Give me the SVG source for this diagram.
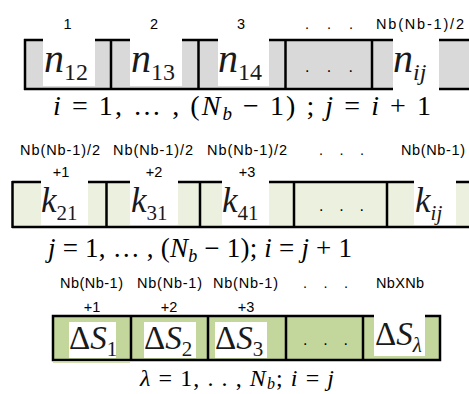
<svg xmlns="http://www.w3.org/2000/svg" width="469" height="394" viewBox="0 0 469 394">
<style>
.lbl{font-family:"Liberation Sans",Arial,sans-serif;font-size:14.5px;fill:#000}
.m{font-family:"Liberation Serif","Times New Roman",serif;fill:#000}
.it{font-style:italic}
.ln{stroke:#000;stroke-width:2.5;fill:none}
.wb{fill:#fff}
.g1{fill:#D9D9D9}
.g2{fill:#EBF1DE}
.g3{fill:#C3D69B}
.lab{font-family:"Liberation Serif","Times New Roman",serif;fill:#1a1a1a}
.dt{font-family:"Liberation Sans",Arial,sans-serif;font-size:16px;fill:#000}
</style>
<rect width="469" height="394" fill="#fff"/>

<!-- Row 1 -->
<g id="row1">
  <rect class="g1" x="24" y="40" width="445" height="49"/>
  <line class="ln" x1="24" y1="40" x2="469" y2="40"/>
  <rect class="wb" x="43" y="37" width="52" height="49"/>
  <rect class="wb" x="130" y="37" width="52" height="49"/>
  <rect class="wb" x="218" y="37" width="51" height="49"/>
  <path class="ln" d="M24 89H393M439 89H469"/>
  <path class="ln" d="M25 39V90M111 40V89M198.5 40V89M285.5 40V89M372 40V89"/>
  <rect class="wb" x="393" y="37" width="46" height="55"/>
</g>
<g id="n12"><text class="lab" x="44" y="72"><tspan class="it" font-size="40">n</tspan><tspan font-size="24" dy="8">12</tspan></text></g>
<g id="n13"><text class="lab" x="131" y="72"><tspan class="it" font-size="40">n</tspan><tspan font-size="24" dy="8">13</tspan></text></g>
<g id="n14"><text class="lab" x="218" y="72"><tspan class="it" font-size="40">n</tspan><tspan font-size="24" dy="8">14</tspan></text></g>
<g id="dots1"><text class="dt" x="305" y="72" textLength="48" lengthAdjust="spacing">. . .</text></g>
<g id="nij"><text class="lab" x="393" y="72"><tspan class="it" font-size="40">n</tspan><tspan class="it" font-size="24" dy="8">ij</tspan></text></g>
<g id="row1-labels">
  <text class="lbl" x="67.5" y="29" text-anchor="middle">1</text>
  <text class="lbl" x="154" y="29" text-anchor="middle">2</text>
  <text class="lbl" x="241" y="29" text-anchor="middle">3</text>
  <text class="lbl" x="305" y="29" textLength="48" lengthAdjust="spacing">. . .</text>
  <text class="lbl" x="376" y="29" textLength="88" lengthAdjust="spacing">Nb(Nb-1)/2</text>
</g>
<g id="f1"><text class="m" x="53" y="115" font-size="28" textLength="378" lengthAdjust="spacing"><tspan class="it">i</tspan> = 1, … , (<tspan class="it">N</tspan><tspan class="it" font-size="19" dy="5">b</tspan><tspan dy="-5"> − 1) ; </tspan><tspan class="it">j</tspan> = <tspan class="it">i</tspan> + 1</text></g>

<!-- Row 2 -->
<g id="row2">
  <rect class="g2" x="12" y="182" width="457" height="45"/>
  <line class="ln" x1="12" y1="182" x2="469" y2="182"/>
  <rect class="wb" x="41" y="179" width="47" height="46"/>
  <rect class="wb" x="130" y="179" width="48" height="46"/>
  <rect class="wb" x="222" y="179" width="47" height="46"/>
  <rect class="wb" x="414" y="179" width="42" height="46"/>
  <line class="ln" x1="12" y1="227" x2="469" y2="227"/>
  <path class="ln" d="M12.5 181V228M106.5 182V227M200 182V227M294 182V227M387 182V227"/>
</g>
<g id="k21"><text class="lab" x="41" y="212"><tspan class="it" font-size="35">k</tspan><tspan font-size="21" dy="8">21</tspan></text></g>
<g id="k31"><text class="lab" x="131" y="212"><tspan class="it" font-size="35">k</tspan><tspan font-size="21" dy="8">31</tspan></text></g>
<g id="k41"><text class="lab" x="222" y="212"><tspan class="it" font-size="35">k</tspan><tspan font-size="21" dy="8">41</tspan></text></g>
<g id="dots2"><text class="dt" x="319" y="211" textLength="45" lengthAdjust="spacing">. . .</text></g>
<g id="kij"><text class="lab" x="415" y="212"><tspan class="it" font-size="35">k</tspan><tspan class="it" font-size="21" dy="8">ij</tspan></text></g>
<g id="row2-labels">
  <text class="lbl" x="20" y="155" textLength="80" lengthAdjust="spacing">Nb(Nb-1)/2</text>
  <text class="lbl" x="113" y="155" textLength="80" lengthAdjust="spacing">Nb(Nb-1)/2</text>
  <text class="lbl" x="207" y="155" textLength="80" lengthAdjust="spacing">Nb(Nb-1)/2</text>
  <text class="lbl" x="319" y="155" textLength="45" lengthAdjust="spacing">. . .</text>
  <text class="lbl" x="401" y="155" textLength="64" lengthAdjust="spacing">Nb(Nb-1)</text>
  <text class="lbl" x="61" y="177" text-anchor="middle">+1</text>
  <text class="lbl" x="154" y="177" text-anchor="middle">+2</text>
  <text class="lbl" x="247" y="177" text-anchor="middle">+3</text>
</g>
<g id="f2"><text class="m" x="48" y="257" font-size="27" textLength="304" lengthAdjust="spacing"><tspan class="it">j</tspan> = 1, … , (<tspan class="it">N</tspan><tspan class="it" font-size="18" dy="5">b</tspan><tspan dy="-5"> − 1); </tspan><tspan class="it">i</tspan> = <tspan class="it">j</tspan> + 1</text></g>

<!-- Row 3 -->
<g id="row3">
  <rect class="g3" x="53" y="316" width="387" height="44"/>
  <rect class="wb" x="69" y="322" width="47" height="36"/>
  <rect class="wb" x="144" y="322" width="52" height="36"/>
  <rect class="wb" x="215" y="322" width="52" height="36"/>
  <rect class="ln" x="53" y="316" width="387" height="44"/>
  <path class="ln" d="M131 316V360M208 316V360M286 316V360M363 316V360"/>
  <line x1="53" y1="362" x2="130" y2="362" stroke="#C3D69B" stroke-width="1.5"/>
  <rect class="wb" x="374" y="314" width="51" height="42"/>
</g>
<g id="dS1"><text class="lab" x="69" y="349"><tspan font-size="33">Δ</tspan><tspan class="it" font-size="33">S</tspan><tspan font-size="21" dy="7">1</tspan></text></g>
<g id="dS2"><text class="lab" x="144" y="349"><tspan font-size="33">Δ</tspan><tspan class="it" font-size="33">S</tspan><tspan font-size="21" dy="7">2</tspan></text></g>
<g id="dS3"><text class="lab" x="215" y="349"><tspan font-size="33">Δ</tspan><tspan class="it" font-size="33">S</tspan><tspan font-size="21" dy="7">3</tspan></text></g>
<g id="dots3"><text class="dt" x="303" y="345" textLength="45" lengthAdjust="spacing">. . .</text></g>
<g id="dSl"><text class="lab" x="375" y="345"><tspan font-size="33">Δ</tspan><tspan class="it" font-size="33">S</tspan><tspan class="it" font-size="21" dy="7">λ</tspan></text></g>
<g id="row3-labels">
  <text class="lbl" x="60" y="288" textLength="63" lengthAdjust="spacing">Nb(Nb-1)</text>
  <text class="lbl" x="137" y="288" textLength="65" lengthAdjust="spacing">Nb(Nb-1)</text>
  <text class="lbl" x="213" y="288" textLength="65" lengthAdjust="spacing">Nb(Nb-1)</text>
  <text class="lbl" x="303" y="288" textLength="45" lengthAdjust="spacing">. . .</text>
  <text class="lbl" x="376" y="288" textLength="48" lengthAdjust="spacing">NbXNb</text>
  <text class="lbl" x="92" y="312" text-anchor="middle">+1</text>
  <text class="lbl" x="169" y="312" text-anchor="middle">+2</text>
  <text class="lbl" x="246" y="312" text-anchor="middle">+3</text>
</g>
<g id="f3"><text class="m" x="140" y="386" font-size="24" textLength="194" lengthAdjust="spacing"><tspan class="it">λ</tspan> = 1, . . , <tspan class="it">N</tspan><tspan class="it" font-size="16" dy="3">b</tspan><tspan dy="-3">; </tspan><tspan class="it">i</tspan> = <tspan class="it">j</tspan></text></g>
</svg>
